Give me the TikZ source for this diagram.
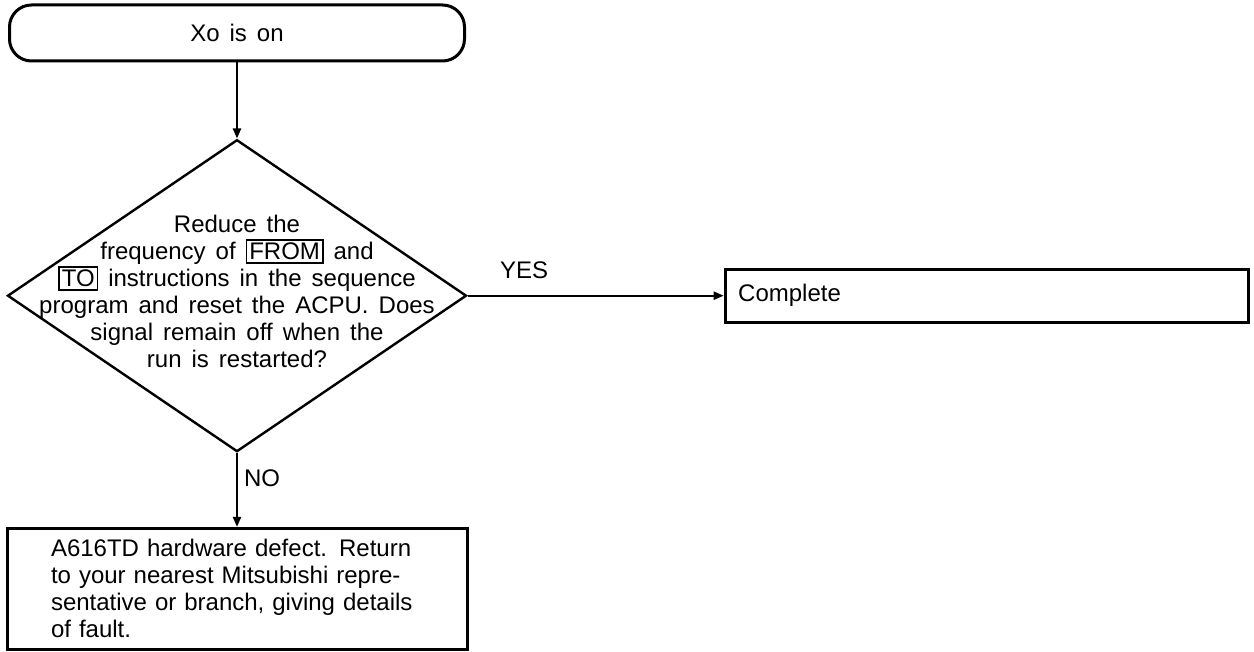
\documentclass[tikz,border=0pt]{standalone}
\usepackage{fontspec}
\setmainfont{Liberation Sans}[WordSpace=1.5]
\usetikzlibrary{arrows.meta,positioning,shapes.geometric}

\newcommand{\keybox}[1]{{\setlength{\fboxsep}{1pt}\setlength{\fboxrule}{0.8pt}\fbox{#1}}}

\begin{document}
\begin{tikzpicture}[
  x=0.5pt, y=0.5pt,
  font=\fontsize{12}{13.5}\selectfont,
  term/.style={draw,line width=1.5pt,rounded corners=11pt,minimum width=227.5pt,
               minimum height=28pt,inner sep=0pt},
  decide/.style={draw,diamond,line width=1.2pt,minimum width=229.5pt,
                 minimum height=156pt,inner sep=0pt},
  box/.style={draw,line width=1.5pt,align=left,inner ysep=0pt},
  lbl/.style={inner sep=2pt},
  >={Triangle[length=5pt,width=4pt]},
]
  \useasboundingbox (0,0) rectangle (1254,-652);

  \node[term] (start) at (237,-33) {Xo is on};
  \node[decide, below=38pt of start] (dec) {};
  \node[align=center] (dectext) at ([yshift=2pt]dec.center)
    {Reduce the\\ frequency of \keybox{FROM} and\\ \keybox{TO} instructions in the sequence\\
     program and reset the ACPU. Does\\ signal remain off when the\\ run is restarted?};
  \node[box, right=128pt of dec, text width=248.5pt, inner xsep=6.5pt,
        minimum height=26.5pt] (done) {Complete};
  \node[box, below=37pt of dec, text width=186pt, inner xsep=22pt,
        minimum height=60.5pt] (fault)
    {A616TD hardware defect. Return\\ to your nearest Mitsubishi repre-\\
     sentative or branch, giving details\\ of fault.};

  \draw[->,line width=1.1pt] (start) -- (dec);
  \draw[->,line width=1.1pt] (dec.east) -- node[lbl,pos=0.22,above=6pt] {YES} (done);
  \draw[->,line width=1.1pt] (dec.south) -- node[lbl,pos=0.34,right=1pt] {NO} (dec.south |- fault.north);
\end{tikzpicture}
\end{document}
